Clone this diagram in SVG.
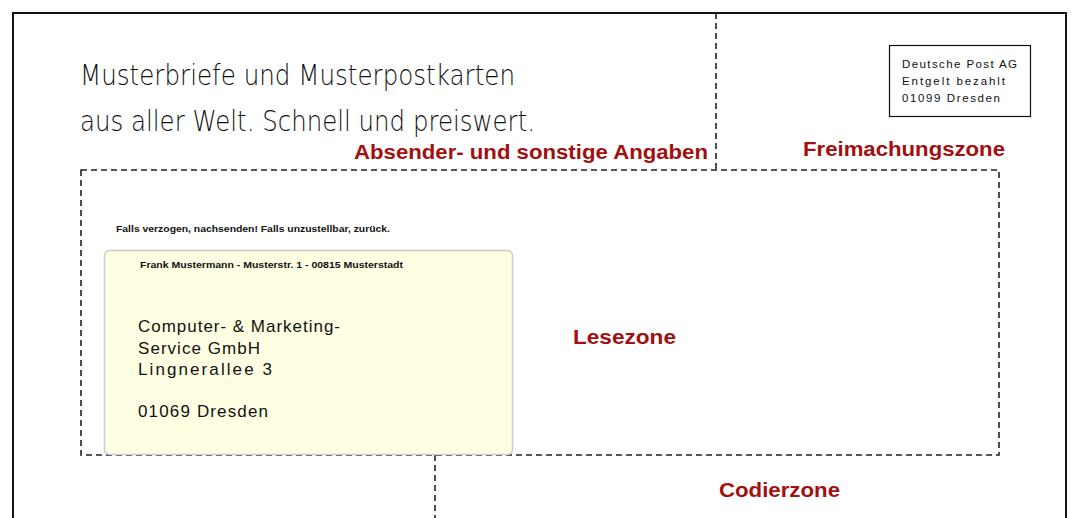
<svg xmlns="http://www.w3.org/2000/svg" width="1072" height="518" viewBox="0 0 1072 518">
<style>
.frame{fill:none;stroke:#111;stroke-width:2}
.dash{fill:none;stroke:#222;stroke-width:1.6;stroke-dasharray:6,4}
.zone{font-family:"Liberation Sans",Arial,sans-serif;font-weight:bold;font-size:20px;fill:#a30f0f}
.hand{font-family:"DejaVu Sans",sans-serif;font-weight:200;font-size:29px;fill:#111}
.small{font-family:"Liberation Sans",Arial,sans-serif;font-weight:bold;font-size:9px;fill:#111}
.stamp{font-family:"Liberation Sans",Arial,sans-serif;font-size:11.5px;fill:#111}
.addr{font-family:"Liberation Sans",Arial,sans-serif;font-size:17px;fill:#111}
</style>
<rect width="1072" height="518" fill="#fff"/>
<g id="frame">
<path class="frame" d="M13,518 V13 H1066 V518"/>
</g>
<g id="connectors">
<line class="dash" x1="716" y1="13" x2="716" y2="170"/>
<rect class="dash" x="81" y="170" width="918" height="285"/>
<line class="dash" x1="435" y1="455" x2="435" y2="518"/>
</g>
<g id="title">
<text class="hand" x="80" y="85" textLength="435" lengthAdjust="spacingAndGlyphs">Musterbriefe und Musterpostkarten</text>
<text class="hand" x="80" y="131" textLength="455" lengthAdjust="spacingAndGlyphs">aus aller Welt. Schnell und preiswert.</text>
</g>
<g id="absender-zone">
<text class="zone" x="354" y="159" textLength="354" lengthAdjust="spacingAndGlyphs">Absender- und sonstige Angaben</text>
</g>
<g id="freimachungszone">
<text class="zone" x="803" y="156" textLength="202" lengthAdjust="spacingAndGlyphs">Freimachungszone</text>
<rect x="889.5" y="45.5" width="141" height="71" fill="#fff" stroke="#111" stroke-width="1.2"/>
<text class="stamp" x="902" y="68" textLength="115" lengthAdjust="spacing">Deutsche Post AG</text>
<text class="stamp" x="902" y="85" textLength="103" lengthAdjust="spacing">Entgelt bezahlt</text>
<text class="stamp" x="902" y="102" textLength="98" lengthAdjust="spacing">01099 Dresden</text>
</g>
<g id="lesezone">
<text class="small" x="116" y="232" textLength="274" lengthAdjust="spacingAndGlyphs">Falls verzogen, nachsenden! Falls unzustellbar, zurück.</text>
<rect x="104.5" y="250.5" width="408" height="204" rx="5" fill="#ffffe3" stroke="#cccccc" stroke-width="1.5"/>
<text class="small" x="140" y="268" textLength="263" lengthAdjust="spacingAndGlyphs">Frank Mustermann - Musterstr. 1 - 00815 Musterstadt</text>
<text class="addr" x="138" y="332" textLength="202" lengthAdjust="spacing">Computer- &amp; Marketing-</text>
<text class="addr" x="138" y="354" textLength="122" lengthAdjust="spacing">Service GmbH</text>
<text class="addr" x="138" y="375" textLength="134" lengthAdjust="spacing">Lingnerallee 3</text>
<text class="addr" x="138" y="417" textLength="130" lengthAdjust="spacing">01069 Dresden</text>
<text class="zone" x="573" y="344" textLength="103" lengthAdjust="spacingAndGlyphs">Lesezone</text>
</g>
<g id="codierzone">
<text class="zone" x="719" y="497" textLength="121" lengthAdjust="spacingAndGlyphs">Codierzone</text>
</g>
</svg>
